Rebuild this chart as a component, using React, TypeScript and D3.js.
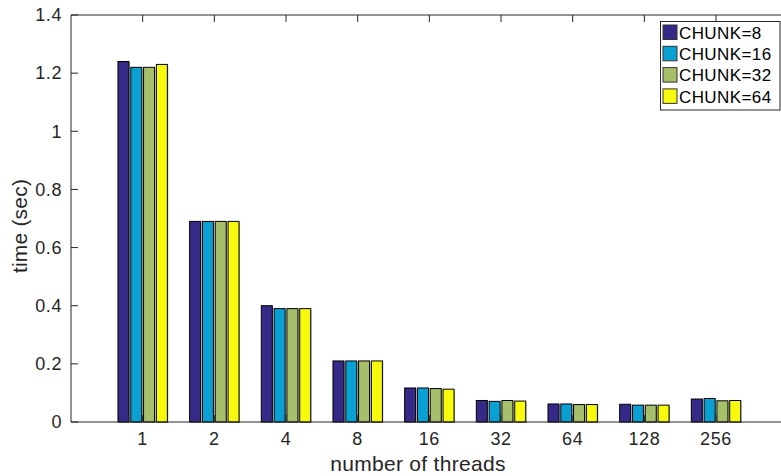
import React from "react";
import * as d3 from "d3";

const categories = ["1", "2", "4", "8", "16", "32", "64", "128", "256"];
const seriesNames = ["CHUNK=8", "CHUNK=16", "CHUNK=32", "CHUNK=64"];
const chunk8 = [1.24, 0.69, 0.4, 0.21, 0.117, 0.074, 0.062, 0.061, 0.079];
const chunk16 = [1.22, 0.69, 0.39, 0.21, 0.117, 0.071, 0.062, 0.058, 0.081];
const chunk32 = [1.22, 0.69, 0.39, 0.21, 0.115, 0.074, 0.06, 0.058, 0.073];
const chunk64 = [1.23, 0.69, 0.39, 0.21, 0.113, 0.072, 0.06, 0.058, 0.074];
const series = [chunk8, chunk16, chunk32, chunk64];
const colors = ["#352a87", "#0aa0d4", "#a6bf6a", "#f8fa0e"];
const yTicks = [0, 0.2, 0.4, 0.6, 0.8, 1, 1.2, 1.4];

export default function App() {
  const W = 781, H = 476;
  const left = 71, top = 15, bottom = 422;
  const x = d3.scaleLinear().domain([0, 10]).range([left, left + 716.7]);
  const y = d3.scaleLinear().domain([0, 1.4]).range([bottom, top]);
  const axisColor = "#262626";
  const font = "'Liberation Sans', Arial, sans-serif";
  const barSpacing = 12.8;
  const barW = 11;
  const right = x(10);
  return (
    <svg width={W} height={H} style={{ position: "absolute", left: 0, top: 0, background: "#fff" }} fontFamily={font}>
      <rect x={0} y={0} width={W} height={H} fill="#fff" />
      {categories.map((c, i) =>
        series.map((s, j) => {
          const cx = x(i + 1) + (j - 1.5) * barSpacing;
          const yt = y(s[i]);
          return (
            <g key={c + j}>
              <rect x={cx - barW / 2 + 1} y={yt + 1} width={barW} height={bottom - yt} fill="#888" opacity={0.6} />
              <rect x={cx - barW / 2} y={yt} width={barW} height={bottom - yt} fill={colors[j]} stroke="#000" strokeWidth={1} />
            </g>
          );
        })
      )}
      {/* axes box */}
      <line x1={left} y1={top} x2={right} y2={top} stroke={axisColor} strokeWidth={1} />
      <line x1={left} y1={bottom} x2={right} y2={bottom} stroke={axisColor} strokeWidth={1.2} />
      <line x1={left} y1={top} x2={left} y2={bottom} stroke={axisColor} strokeWidth={1} />
      {yTicks.map((t) => (
        <g key={t}>
          <line x1={left} x2={left + 7} y1={y(t)} y2={y(t)} stroke={axisColor} />
          <text x={left - 9} y={y(t)} dy="0.35em" textAnchor="end" fontSize={18} letterSpacing={0.6} fill={axisColor}>
            {d3.format("~g")(t)}
          </text>
        </g>
      ))}
      {categories.map((c, i) => (
        <g key={c}>
          <line x1={x(i + 1)} x2={x(i + 1)} y1={bottom} y2={bottom - 7} stroke={axisColor} />
          <line x1={x(i + 1)} x2={x(i + 1)} y1={top} y2={top + 7} stroke={axisColor} />
          <text x={x(i + 1)} y={bottom + 23} textAnchor="middle" fontSize={18} letterSpacing={0.6} fill={axisColor}>
            {c}
          </text>
        </g>
      ))}
      <text x={418} y={471} textAnchor="middle" fontSize={21} letterSpacing={0.3} fill={axisColor}>
        number of threads
      </text>
      <text transform={`translate(27,226) rotate(-90)`} textAnchor="middle" fontSize={21} letterSpacing={0.2} fill={axisColor}>
        time (sec)
      </text>
      {/* legend */}
      <rect x={660.5} y={21.5} width={119.5} height={88.5} fill="#fff" stroke={axisColor} strokeWidth={1} />
      {seriesNames.map((n, j) => (
        <g key={n}>
          <rect x={663} y={25 + j * 21.3} width={14} height={14.5} fill={colors[j]} stroke="#333" strokeWidth={1} />
          <text x={679} y={32.5 + j * 21.3} dy="0.36em" fontSize={17} letterSpacing={0.4} fill="#000">
            {n}
          </text>
        </g>
      ))}
    </svg>
  );
}
